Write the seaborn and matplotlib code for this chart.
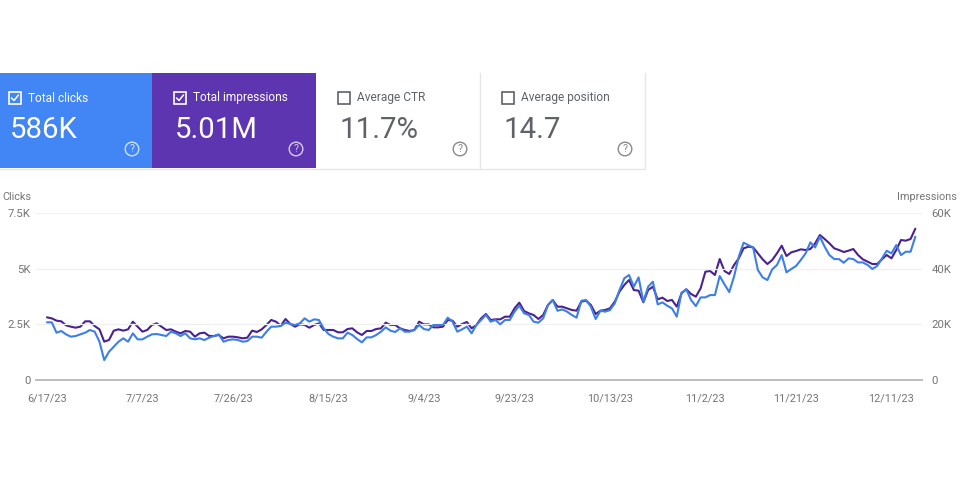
import pandas as pd
import matplotlib.pyplot as plt
import matplotlib.dates as mdates
from matplotlib.patches import Rectangle, Circle
import seaborn as sns

# Daily values, 6/17/23 to 12/16/23
clicks = [
    2590, 2590, 2125, 2200, 2050, 1945, 1975, 2050, 2125, 2245, 2170, 1720, 895, 1270, 1495, 1720, 1870, 1720, 2095,
    1825, 1825, 1945, 2050, 2065, 2020, 1975, 2170, 2095, 1975, 2095, 1870, 1825, 1870, 1795, 1900, 1975, 2050, 1720,
    1795, 1825, 1795, 1720, 1750, 1945, 1945, 1900, 2170, 2395, 2395, 2425, 2575, 2515, 2470, 2545, 2770, 2620, 2725,
    2695, 2320, 2065, 1945, 1870, 1870, 2125, 2020, 1840, 1690, 1915, 1915, 2020, 2170, 2365, 2215, 2155, 2320, 2170,
    2170, 2245, 2470, 2290, 2245, 2470, 2470, 2470, 2800, 2620, 2170, 2275, 2395, 2095, 2470, 2695, 2920, 2620, 2695,
    2500, 2695, 2695, 3070, 3335, 2995, 2920, 2620, 2575, 2770, 3365, 3590, 3110, 3170, 3070, 2920, 2800, 3560, 3590,
    3290, 2740, 3110, 3070, 3140, 3440, 4040, 4565, 4715, 4190, 4610,
    3515, 4190, 4415, 3395, 3485, 3335, 3215, 2845, 3920, 4070, 3590, 3320, 3710, 3710, 3815, 3815, 4670, 4295, 3950,
    4640, 5540, 6165, 6060, 5955, 4940, 4610, 4490, 4970, 5165, 5610, 4835, 4985, 5120, 5390, 5685, 6180, 5955, 6435,
    5985, 5610, 5430, 5430, 5265, 5460, 5430, 5280, 5280, 5165, 4985, 5120, 5460, 5805, 5685, 6060, 5610, 5760, 5760,
    6435,
]
impressions = [
    22510, 22150, 21320, 21080, 19640, 19160, 18800, 19160, 21080, 21080, 19400, 18200, 13780, 14370, 17730, 18200,
    17730, 18200, 20960, 19160, 17370, 17960, 19760, 20360, 19160, 17960, 18200, 17370, 16770, 17600, 17370, 15570,
    16770, 17010, 15810, 15810, 16170, 14970, 15570, 15570, 15330, 14970, 15210, 17730, 17250, 18200, 19760, 21560,
    20960, 19520, 21910, 20120, 19160, 20000, 19760, 18800, 19760,
    20360, 17970, 17970, 17970, 17130, 17130, 18320, 18560, 17130, 16170, 17610, 17610, 18320, 18560, 20600, 19760,
    19760, 18560, 17970, 17610, 17970, 20960, 20000, 20000, 18920, 18920, 19160, 21560, 21320, 19160, 20120, 20840,
    18560, 19760, 22160, 23710, 21560, 21800, 21800, 22750, 22750, 25750, 27780, 24790, 23950, 23350, 21920, 23350,
    26940, 28740, 26340, 26340, 25750, 25150, 24910, 28140, 28500, 26940, 23710, 24910, 25150, 25750, 28140, 31730,
    34130, 35920, 32330, 32090,
    27910, 32340, 33535, 28990, 29585, 28390, 28750, 26350, 31140, 32580, 30900, 29945, 32935, 38920, 39160, 37725,
    43470, 39160, 38085, 41315, 43710, 47300, 47900, 47660, 45505, 43350, 41675, 43110, 45505, 48260, 44550, 45865,
    46345, 46940, 46700, 47060, 49095, 52090, 50650, 49095, 47300, 46700, 45985, 46465, 47060, 44905, 43350, 42510,
    41675, 41675, 43350, 44905, 43710, 46700, 50295, 50055, 50650, 54360,
]
dates = pd.date_range('2023-06-17', periods=len(clicks))
tick_dates = ['2023-06-17', '2023-07-07', '2023-07-26', '2023-08-15', '2023-09-04',
              '2023-09-23', '2023-10-13', '2023-11-02', '2023-11-21', '2023-12-11']
tick_labels = ['6/17/23', '7/7/23', '7/26/23', '8/15/23', '9/4/23',
               '9/23/23', '10/13/23', '11/2/23', '11/21/23', '12/11/23']
clicks_ticks = [0, 2500, 5000, 7500]
clicks_tick_labels = ['0', '2.5K', '5K', '7.5K']
impr_ticks = [0, 20000, 40000, 60000]
impr_tick_labels = ['0', '20K', '40K', '60K']

# Scorecards: title, value, checked, fill, text colour
card_titles = ['Total clicks', 'Total impressions', 'Average CTR', 'Average position']
card_values = ['586K', '5.01M', '11.7%', '14.7']
card_checked = [True, True, False, False]
card_fills = ['#4285f4', '#5e35b1', 'white', 'white']
card_colors = ['white', 'white', '#5f6368', '#5f6368']
card_edges = [0, 152, 316, 480, 645]

df = pd.DataFrame({'date': dates, 'clicks': clicks, 'impressions': impressions})

sns.set_theme(style='white')
plt.rcParams['font.family'] = ['Roboto', 'DejaVu Sans']

fig = plt.figure(figsize=(9.6, 5), dpi=100)
grey = '#757575'

# overlay in pixel coordinates for the scorecards
card_ax = fig.add_axes([0, 0, 1, 1])
card_ax.set_xlim(0, 960)
card_ax.set_ylim(500, 0)
card_ax.axis('off')

for i, title in enumerate(card_titles):
    x0, x1 = card_edges[i], card_edges[i + 1]
    color = card_colors[i]
    card_ax.add_patch(Rectangle((x0, 73), x1 - x0, 95, facecolor=card_fills[i], edgecolor='none'))
    if card_fills[i] == 'white':
        card_ax.plot([x1, x1], [73, 168], color='#e6e6e6', lw=1)
    # checkbox
    box_x = x0 + (9 if i == 0 else 22)
    card_ax.add_patch(Rectangle((box_x, 92), 12, 12, facecolor='none', edgecolor=color, lw=1.2))
    if card_checked[i]:
        card_ax.plot([box_x + 2.5, box_x + 5, box_x + 9.5], [98, 100.5, 95], color=color, lw=1.1)
    card_ax.text(box_x + 19, 98, title, color=color, fontsize=8.6, va='center', ha='left')
    card_ax.text(box_x + 1, 130, card_values[i], color=color, fontsize=21.2, va='center', ha='left')
    # help icon
    card_ax.add_patch(Circle((x1 - 20, 149), 6.8, facecolor='none', edgecolor=color, lw=1.0, alpha=0.75))
    card_ax.text(x1 - 20, 149, '?', color=color, fontsize=7.5, va='center', ha='center', alpha=0.75)
card_ax.plot([0, 645], [168.5, 168.5], color='#e6e6e6', lw=1, zorder=0)

card_ax.text(2, 197, 'Clicks', color=grey, fontsize=7.8, va='center', ha='left')
card_ax.text(957, 197, 'Impressions', color=grey, fontsize=7.8, va='center', ha='right')

# chart axes
ax = fig.add_axes([36 / 960, 120 / 500, 886 / 960, 167 / 500])
ax2 = ax.twinx()
sns.lineplot(data=df, x='date', y='impressions', ax=ax2, color='#4a2191', lw=1.5)
sns.lineplot(data=df, x='date', y='clicks', ax=ax, color='#3d7fe6', lw=1.5)
ax.set_zorder(ax2.get_zorder() + 1)
ax.patch.set_visible(False)
ax2.patch.set_visible(False)

ax.set_xlim(mdates.date2num(pd.Timestamp('2023-06-17')) - 2.3, mdates.date2num(pd.Timestamp('2023-06-17')) + 183.4)
ax.set_ylim(0, 7500)
ax2.set_ylim(0, 60000)
ax.set_xticks(pd.to_datetime(tick_dates))
ax.set_xticklabels(tick_labels, color=grey, fontsize=7.8)
ax.set_yticks(clicks_ticks)
ax.set_yticklabels(clicks_tick_labels, color=grey, fontsize=8.2)
ax2.set_yticks(impr_ticks)
ax2.set_yticklabels(impr_tick_labels, color=grey, fontsize=8.2)
ax.set_xlabel('')
ax.set_ylabel('')
ax2.set_ylabel('')
ax.tick_params(axis='x', length=0, pad=9.5)
ax.tick_params(axis='y', length=0, pad=4)
ax2.tick_params(axis='y', length=0, pad=7)

ax.grid(axis='y', color='#f0f0f0', lw=0.9)
ax.set_axisbelow(True)
for a in (ax, ax2):
    for side in ('top', 'left', 'right'):
        a.spines[side].set_visible(False)
    a.spines['bottom'].set_color('#bdbdbd')
    a.spines['bottom'].set_linewidth(1.2)

fig.savefig('out.png', dpi=100)
